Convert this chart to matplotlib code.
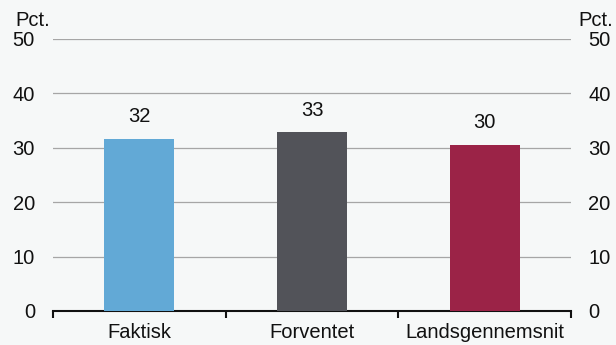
import matplotlib
matplotlib.use("Agg")
import matplotlib.pyplot as plt
import numpy as np

categories = ["Faktisk", "Forventet", "Landsgennemsnit"]
values = [31.6, 32.8, 30.5]
labels = ["32", "33", "30"]
colors = ["#62a9d6", "#525359", "#9b2347"]
yticks = [0, 10, 20, 30, 40, 50]

plt.rcParams['font.family'] = ['Liberation Sans', 'DejaVu Sans']
FS = 14.5
bg = "#f6f8f8"
fig = plt.figure(figsize=(6.16, 3.45), dpi=100, facecolor=bg)
ax = fig.add_axes([53/616, 1 - 311/345, (571-53)/616, (311-38.5)/345], facecolor=bg)

x = np.arange(len(categories))
ax.bar(x, values, width=0.405, color=colors, zorder=3)
for xi, v, lab in zip(x, values, labels):
    ax.text(xi, v + 2.3, lab, ha="center", va="bottom", fontsize=FS, color="#111111")

ax.set_xlim(-0.5, 2.5)
ax.set_ylim(0, 50)
ax.set_yticks(yticks)
ax.yaxis.grid(True, color="#a6a6a6", linewidth=0.9, zorder=0)
ax.set_axisbelow(True)
for s in ["top", "left", "right"]:
    ax.spines[s].set_visible(False)
ax.spines["bottom"].set_linewidth(1.5)
ax.spines["bottom"].set_color("#111111")
ax.tick_params(axis="y", length=0, labelsize=FS, pad=13, labelcolor="#111111")
ax.set_xticks(x)
ax.set_xticklabels(categories, fontsize=FS, color="#111111")
ax.tick_params(axis="x", length=0, pad=9)
ax.set_xticks([-0.5, 0.5, 1.5, 2.5], minor=True)
ax.tick_params(axis="x", which="minor", length=5, width=1.5, color="#111111", direction="out")

ax2 = ax.twinx()
ax2.set_ylim(0, 50)
ax2.set_yticks(yticks)
for s in ["top", "left", "right", "bottom"]:
    ax2.spines[s].set_visible(False)
ax2.tick_params(axis="y", length=0, labelsize=FS, pad=12.5, labelcolor="#111111")

fig.text(15/616, 1 - 21/345, "Pct.", fontsize=FS, ha="left", va="center", color="#111111")
fig.text(578/616, 1 - 21/345, "Pct.", fontsize=FS, ha="left", va="center", color="#111111")

fig.savefig("out.png", dpi=100, facecolor=bg)
